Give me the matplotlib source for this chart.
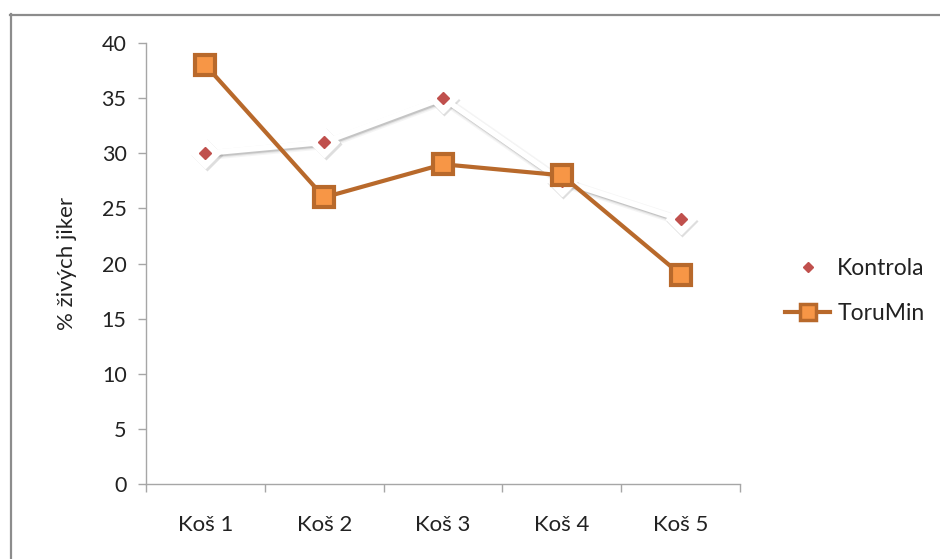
import matplotlib
matplotlib.use("Agg")
import matplotlib.pyplot as plt
from matplotlib.lines import Line2D
from matplotlib.transforms import offset_copy
import numpy as np

categories = ["Koš 1", "Koš 2", "Koš 3", "Koš 4", "Koš 5"]
kontrola = [30, 31, 35, 27.5, 24]
torumin = [38, 26, 29, 28, 19]
y_ticks = [0, 5, 10, 15, 20, 25, 30, 35, 40]

plt.rcParams["font.family"] = ["Lato", "DejaVu Sans"]

W, H = 940, 559
fig = plt.figure(figsize=(W / 100, H / 100), dpi=100)
ax = fig.add_axes([146 / W, (H - 484) / H, (740 - 146) / W, (484 - 43) / H])

x = np.arange(len(categories))
gray = "#a6a6a6"
text_c = "#222222"

# Kontrola: white line and white diamonds with a soft gray shadow, red inner diamonds
shade = offset_copy(ax.transData, fig=fig, x=1.5, y=-2, units="dots")
for lw, a in [(7, 0.08), (5, 0.15), (3.5, 0.3)]:
    ax.plot(x, kontrola, color="#7f7f7f", lw=lw, alpha=a, transform=shade,
            solid_capstyle="round", zorder=1)
ax.plot(x, kontrola, ls="none", marker="D", ms=16, mfc="#7f7f7f", mec="none",
        alpha=0.25, transform=shade, zorder=1)
ax.plot(x, kontrola, color="white", lw=4, zorder=2)
ax.plot(x, kontrola, ls="none", marker="D", ms=15, mfc="white", mec="white", zorder=3)
ax.plot(x, kontrola, ls="none", marker="D", ms=6, mfc="#c0504d", mec="#c0504d", zorder=4)

# ToruMin
line_c = "#b8692b"
ax.plot(x, torumin, color=line_c, lw=3, marker="s", ms=15, mfc="#f79646",
        mec=line_c, mew=3, zorder=5)

ax.set_xlim(-0.5, len(categories) - 0.5)
ax.set_ylim(0, 40)
ax.set_yticks(y_ticks)
ax.set_xticks(x)
ax.set_xticklabels(categories)
ax.set_xticks(np.arange(-0.5, len(categories)), minor=True)
ax.tick_params(axis="x", which="major", length=0, pad=22, labelsize=16, colors=text_c)
ax.tick_params(axis="x", which="minor", length=6, width=1, color=gray, direction="out")
ax.tick_params(axis="y", length=6, width=1, color=gray, labelsize=15.5, pad=8, labelcolor=text_c)

for s in ["top", "right"]:
    ax.spines[s].set_visible(False)
for s in ["left", "bottom"]:
    ax.spines[s].set_color(gray)
    ax.spines[s].set_linewidth(1)

ax.set_ylabel("% živých jiker", fontsize=16, color=text_c, labelpad=18)

handles = [
    Line2D([], [], ls="none", marker="D", ms=5, mfc="#c0504d", mec="#c0504d"),
    Line2D([], [], color=line_c, lw=3, marker="s", ms=12, mfc="#f79646", mec=line_c, mew=2.5),
]
fig.legend(handles, ["Kontrola", "ToruMin"], loc="center left",
           bbox_to_anchor=(764 / W, 1 - 291 / H), frameon=False, fontsize=16.5,
           handlelength=2.0, handletextpad=0.3, labelspacing=1.05, labelcolor=text_c)

# outer chart frame
frame_c = "#8c8c8c"
fig.add_artist(Line2D([10.5 / W, 10.5 / W], [0, 1 - 14 / H], color=frame_c, lw=1.6))
fig.add_artist(Line2D([10 / W, 1], [1 - 14.5 / H, 1 - 14.5 / H], color=frame_c, lw=1.6))

fig.savefig("out.png", dpi=100, facecolor="white")
